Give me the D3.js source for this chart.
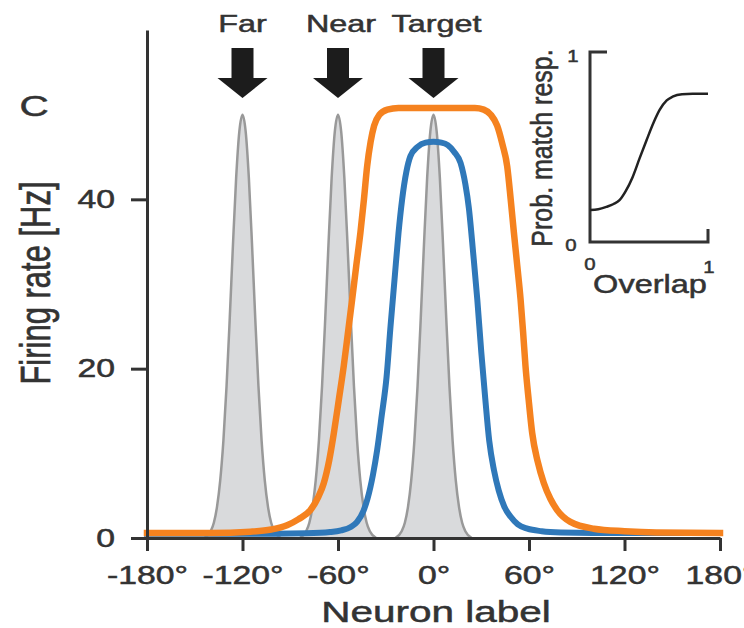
<!DOCTYPE html>
<html>
<head>
<meta charset="utf-8">
<script src="https://cdn.jsdelivr.net/npm/d3@7"></script>
<style>
  html, body { margin: 0; padding: 0; background: #fff; }
  svg { display: block; font-family: "Liberation Sans", Arial, Helvetica, sans-serif; }
</style>
</head>
<body>
<div id="chart"></div>
<script>
// stimulus profile (same shape for every stimulus)
const stimCenters = [-120, -60, 0];
const stimNames = ["Far", "Near", "Target"];
const stimOffsets = [-24, -20, -18, -16, -14, -12, -10, -8, -6, -4, -2, 0, 2, 4, 6, 8, 10, 12, 14, 16, 18, 20, 24];
const stimRates   = [0, 0.8, 1.8, 3.7, 6.8, 11.5, 18, 26, 34.6, 42.5, 48, 50, 48, 42.5, 34.6, 26, 18, 11.5, 6.8, 3.7, 1.8, 0.8, 0];

// blue response
const blueLabels = [-180, -100, -80, -65, -58, -52, -48, -44, -41.5, -38, -35.4, -32.5, -29.5, -27, -24.5, -22, -19.7, -17, -14.5, -10, -5, 0, 5, 9, 13, 17, 20, 22.2, 25, 27.5, 30, 32.5, 35, 38, 41, 44.5, 48.5, 53, 59, 68, 80, 100, 180];
const blueRates  = [0.5, 0.5, 0.55, 0.7, 0.9, 1.3, 1.9, 3.2, 4.6, 7.5, 10.4, 14.5, 19, 25, 30.5, 36, 40, 43.3, 45.1, 46.2, 46.7, 46.8, 46.7, 46.4, 45.6, 44.3, 41.8, 39, 33.5, 28.2, 22, 16.5, 11.5, 8, 5.6, 3.7, 2.5, 1.6, 1.1, 0.8, 0.65, 0.6, 0.6];

// orange response
const orangeLabels = [-180, -140, -115, -102, -92, -85, -77.3, -72.5, -68.9, -65.5, -62.6, -59.5, -56.4, -53.7, -51.1, -48.5, -45.9, -43.7, -41.7, -39.5, -37.3, -34, -29, -22, 0, 26, 31.6, 36, 40, 43.3, 46.3, 48.5, 50.5, 52.6, 54.7, 56.3, 57.8, 59.8, 62, 65.5, 69.3, 73.5, 77.7, 86, 100.7, 120, 140, 180];
const orangeRates  = [0.6, 0.6, 0.75, 1.0, 1.5, 2.2, 3.3, 4.8, 6.5, 9.2, 12.4, 16.3, 20.3, 24.3, 28.2, 32.2, 36.1, 40, 43.9, 46.8, 48.7, 50, 50.6, 50.8, 50.8, 50.8, 50.6, 50, 48.7, 46.5, 43.9, 40, 36.1, 32.2, 28.2, 24.3, 20.3, 16.3, 12.4, 9, 6.5, 4.6, 3.3, 1.9, 1.1, 0.8, 0.65, 0.6];

// inset: probability of match response vs overlap
const overlapVals = [0, 0.07, 0.14, 0.2, 0.25, 0.3, 0.36, 0.42, 0.48, 0.54, 0.59, 0.65, 0.7, 0.78, 0.87, 1.0];
const probVals    = [0.168, 0.172, 0.185, 0.2, 0.22, 0.265, 0.34, 0.44, 0.537, 0.63, 0.695, 0.745, 0.765, 0.778, 0.78, 0.78];

const xTicks = [-180, -120, -60, 0, 60, 120, 180];
const yTicks = [0, 20, 40];

const W = 744, H = 628;
const SX = 1.35;   // the figure is stretched sideways
const ink = "#333";

const svg = d3.select("#chart").append("svg")
    .attr("width", W).attr("height", H);

const x = d3.scaleLinear().domain([-180, 180]).range([147, 720]);
const y = d3.scaleLinear().domain([0, 60]).range([538, 30]);

function label(g, tx, ty, str, size, opt) {
  opt = opt || {};
  return g.append("text")
      .attr("transform", `translate(${tx},${ty}) scale(${opt.sx || SX},1)` + (opt.rot ? " rotate(-90)" : ""))
      .attr("text-anchor", opt.anchor || "middle")
      .attr("font-size", size)
      .attr("fill", ink)
      .attr("stroke", ink)
      .attr("stroke-width", 0.5)
      .text(str);
}

// grey stimulus bumps
const stimLine = d3.line().x(d => x(d[0])).y(d => y(d[1])).curve(d3.curveMonotoneX);
svg.append("g")
  .selectAll("path")
  .data(stimCenters)
  .join("path")
    .attr("d", c => stimLine(stimOffsets.map((o, i) => [c + o, stimRates[i]])))
    .attr("fill", "#d9dadc")
    .attr("stroke", "#999")
    .attr("stroke-width", 2.5);

// response curves
const curve = d3.line().x(d => x(d[0])).y(d => y(d[1])).curve(d3.curveMonotoneX);
svg.append("path")
    .attr("d", curve(blueLabels.map((d, i) => [d, blueRates[i]])))
    .attr("fill", "none")
    .attr("stroke", "#2f78b9")
    .attr("stroke-width", 6)
    .attr("stroke-linecap", "square");
svg.append("path")
    .attr("d", curve(orangeLabels.map((d, i) => [d, orangeRates[i]])))
    .attr("fill", "none")
    .attr("stroke", "#f5821f")
    .attr("stroke-width", 6.5)
    .attr("stroke-linecap", "square");

// axes
const xAxis = svg.append("g")
    .attr("transform", `translate(0,${y(0)})`)
    .call(d3.axisBottom(x).tickValues(xTicks).tickSize(13).tickSizeOuter(0).tickPadding(15)
        .tickFormat(d => d + "°"));
const yAxis = svg.append("g")
    .attr("transform", `translate(${x(-180)},0)`)
    .call(d3.axisLeft(y).tickValues(yTicks).tickSize(16).tickSizeOuter(0));

[xAxis, yAxis].forEach(a => {
  a.selectAll("path, line").attr("stroke", ink).attr("stroke-width", 3);
  a.selectAll("text").attr("font-size", 25).attr("fill", ink)
      .attr("stroke", ink).attr("stroke-width", 0.5);
  a.attr("font-family", null);
});
xAxis.selectAll("text").attr("transform", `scale(${SX},1)`);
yAxis.selectAll("text").attr("x", -32 / SX).attr("transform", `scale(${SX},1)`);

label(svg, 436, 622, "Neuron label", 30);
label(svg, 50, 283, "Firing rate [Hz]", 31, {rot: true});
label(svg, 34, 116, "C", 30);

// arrows + stimulus names
const arrow = c => {
  const cx = x(c);
  return `M${cx - 11},48H${cx + 11}V78H${cx + 25}L${cx},98L${cx - 25},78H${cx - 11}Z`;
};
svg.append("g")
  .selectAll("path")
  .data(stimCenters)
  .join("path")
    .attr("d", arrow)
    .attr("fill", "#1c1c1c");
stimCenters.forEach((c, i) => label(svg, x(c) + (i ? 3 : 0), 32, stimNames[i], 24));

// inset
const ix = d3.scaleLinear().domain([0, 1]).range([590, 708]);
const iy = d3.scaleLinear().domain([0, 1]).range([242, 52]);
const inset = svg.append("g");
inset.append("path")
    .attr("d", `M${ix(0) + 17},${iy(1)}H${ix(0)}V${iy(0)}H${ix(1)}V${iy(0) - 13}`)
    .attr("fill", "none")
    .attr("stroke", ink)
    .attr("stroke-width", 3);
inset.append("path")
    .attr("d", d3.line().x(d => ix(d[0])).y(d => iy(d[1])).curve(d3.curveMonotoneX)(overlapVals.map((o, i) => [o, probVals[i]])))
    .attr("fill", "none")
    .attr("stroke", "#222")
    .attr("stroke-width", 2.5);
label(inset, ix(0) - 17, iy(1) + 10, "1", 17, {sx: 1.2});
label(inset, ix(0) - 19, iy(0) + 9, "0", 17, {sx: 1.2});
label(inset, ix(0), iy(0) + 28, "0", 17, {sx: 1.2});
label(inset, ix(1) + 1, iy(0) + 31, "1", 17, {sx: 1.2});
label(inset, 650, 293, "Overlap", 25, {sx: 1.3});
label(inset, 552, 148, "Prob. match resp.", 25, {rot: true, sx: 1.2});
</script>
</body>
</html>
